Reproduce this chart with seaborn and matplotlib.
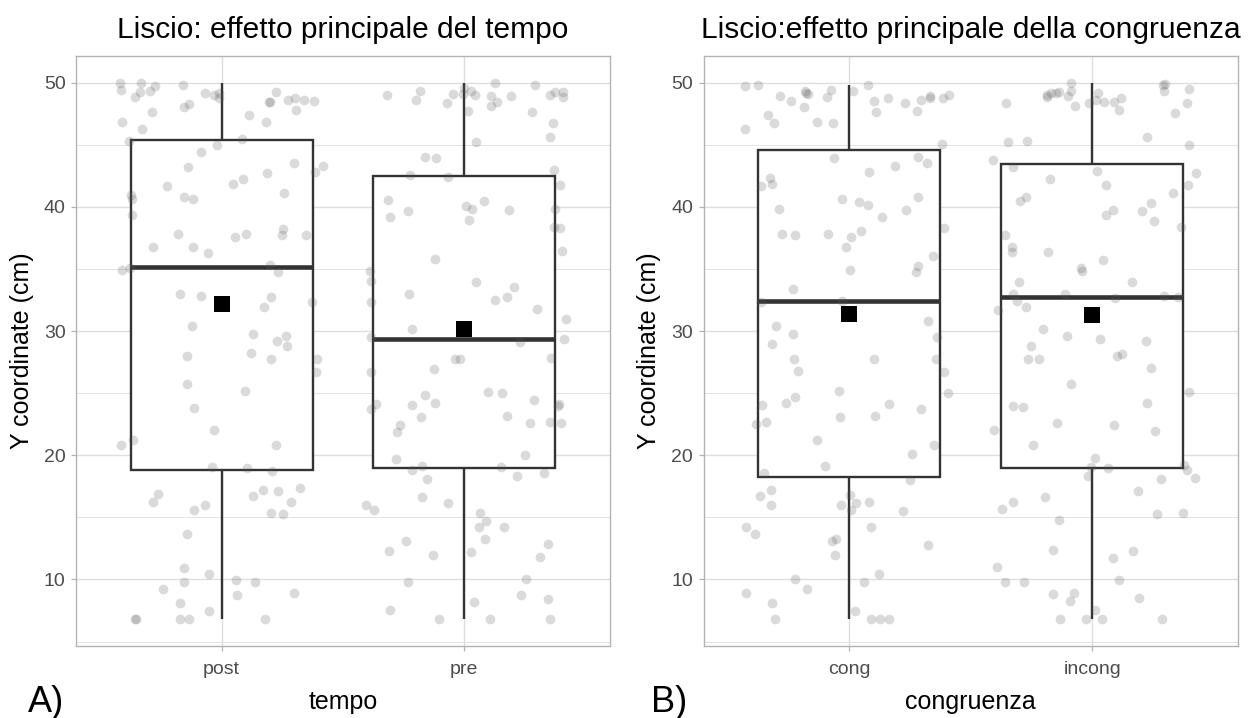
import numpy as np
import pandas as pd
import matplotlib
matplotlib.use("Agg")
import matplotlib.pyplot as plt
import seaborn as sns
from matplotlib.ticker import MultipleLocator, NullLocator

sns.set_theme(style="white")
plt.rcParams["font.family"] = ["Liberation Sans", "DejaVu Sans"]
plt.rcParams["text.color"] = "black"

# ---- data -------------------------------------------------------------
tempo_levels = ["post", "pre"]
congruenza_levels = ["cong", "incong"]

y_post = [
    49.78, 49.46, 49.03, 48.49, 49.16, 48.76, 50.00, 49.16, 48.57, 48.79,
    48.49, 49.24, 48.65, 47.81, 47.62, 47.41, 46.87, 46.28, 49.84, 49.33,
    49.24, 48.65, 48.30, 48.08, 50.00, 48.84, 46.87, 45.45, 45.28, 45.01,
    44.44, 43.58, 42.71, 42.28, 41.88, 42.82, 43.28, 43.20, 41.69, 41.15,
    40.93, 40.61, 40.61, 40.82, 39.37, 37.85, 37.72, 37.72, 38.23, 37.56,
    37.85, 36.77, 36.77, 36.32, 35.30, 35.05, 34.94, 34.75, 33.00, 31.97,
    32.73, 32.38, 32.83, 30.40, 29.60, 29.22, 29.76, 28.84, 28.25,
    27.76, 27.97, 27.76, 26.71, 25.76, 25.17, 23.82, 22.04, 21.25, 20.85,
    20.85, 19.07, 18.96, 18.75, 15.99, 15.59, 16.26, 15.29, 16.26, 15.37,
    17.34, 16.72, 17.23, 16.91, 17.12, 13.67, 10.43, 10.89, 9.94, 9.76,
    8.78, 9.76, 9.27, 8.89, 8.14, 7.43, 6.79, 6.79, 6.79, 6.79, 6.79,
]

y_pre = [
    49.30, 48.92, 48.65, 48.49, 48.16, 47.62, 49.33, 49.03, 48.38, 49.33,
    47.73, 46.76, 48.92, 49.06, 49.57, 50.00, 49.11, 49.03, 48.84, 49.24,
    49.84, 49.03, 45.22, 43.98, 45.60, 44.06, 42.96, 42.60, 42.40, 41.77,
    40.45, 39.80, 39.85, 39.66, 39.77, 38.99, 40.07, 40.53, 39.18, 38.42,
    38.31, 36.48, 35.80, 34.86, 33.94, 33.54, 32.51, 32.38, 32.97, 32.75,
    34.02, 31.81, 30.94, 30.19, 29.54, 29.40, 29.14,
    27.79, 27.79, 27.87, 26.98, 26.71, 25.09, 24.82, 25.01, 23.93, 24.22,
    24.03, 23.74, 24.49, 24.14, 24.14, 23.17, 22.68, 22.60, 22.41, 21.85,
    22.60, 23.06, 20.01, 19.74, 19.15, 19.09, 18.85, 18.34, 18.55, 18.10,
    16.64, 15.99, 16.15, 15.59, 15.37, 14.26, 14.26, 14.72, 13.29, 12.83,
    12.24, 11.78, 11.94, 12.32, 13.10, 10.05, 9.76, 8.78, 8.41, 8.22,
    7.54, 6.79, 6.79, 6.79,
]

y_cong = [
    49.33, 48.76, 48.35, 48.08, 48.57, 48.76, 48.97, 48.89, 48.57, 49.43,
    49.78, 48.97, 48.76, 49.08, 49.84, 49.03, 48.65, 49.84, 49.16, 49.33,
    47.71, 47.62, 47.44, 46.28, 45.10, 46.76, 46.76, 46.87, 43.58, 43.98,
    44.05, 43.31, 42.33, 42.82, 41.88, 41.69, 40.82, 40.61, 39.85, 40.42,
    40.15, 39.77, 39.18, 38.10, 37.83, 37.77, 37.56, 37.83, 36.77, 38.31,
    36.02, 34.89, 34.78, 35.26, 33.43, 32.38, 32.43, 30.84, 30.43, 29.76,
    29.54, 29.00,
    27.76, 27.76, 27.76, 26.71, 26.79, 25.17, 25.01, 24.68, 24.22, 24.14,
    23.74, 23.06, 22.68, 23.17, 24.03, 22.49, 21.25, 20.85, 20.09, 19.12,
    18.58, 17.23, 16.15, 15.59, 16.83, 15.99, 17.98, 16.26, 15.50, 15.99,
    16.75, 14.24, 13.29, 14.24, 13.67, 13.08, 12.81, 11.94, 10.43, 9.76,
    10.00, 9.24, 8.89, 8.14, 7.43, 6.79, 6.79, 6.79, 6.79,
]

y_incong = [
    49.51, 49.33, 48.65, 48.49, 48.35, 48.35, 47.54, 48.49, 49.03, 48.76,
    48.11, 47.81, 49.38, 49.19, 50.00, 49.92, 49.84, 48.84, 49.30, 48.38,
    48.97, 49.16, 49.16, 45.20, 43.75, 45.33, 45.03, 45.60, 42.93, 43.20,
    42.71, 41.09, 41.77, 41.77, 42.23, 40.80, 40.31, 40.50, 39.77, 39.66,
    39.39, 38.91, 38.42, 37.75, 36.80, 36.34, 36.40, 35.72, 35.05, 34.83,
    33.94, 33.99, 32.97, 32.46, 32.86, 32.97, 32.70, 32.73, 31.97, 31.70,
    30.16, 29.62, 29.33, 28.84, 29.19,
    27.97, 27.03, 27.79, 27.79, 28.14, 25.76, 25.09, 24.22, 23.87, 23.93,
    22.60, 21.93, 22.41, 20.85, 22.04, 19.82, 19.23, 18.96, 18.82, 18.34,
    18.20, 19.07, 18.07, 16.64, 15.69, 17.12, 16.26, 15.29, 15.37, 14.75,
    12.35, 11.75, 12.32, 10.97, 9.94, 9.76, 9.76, 8.81, 8.89, 8.30,
    8.49, 7.57, 6.79, 6.79, 6.79, 6.79,
]

df_tempo = pd.DataFrame({
    "tempo": ["post"] * len(y_post) + ["pre"] * len(y_pre),
    "y": y_post + y_pre,
})
df_cong = pd.DataFrame({
    "congruenza": ["cong"] * len(y_cong) + ["incong"] * len(y_incong),
    "y": y_cong + y_incong,
})

# ---- figure -----------------------------------------------------------
W, H = 1259, 718
fig = plt.figure(figsize=(W / 100, H / 100), dpi=100)


def px_axes(left, top, right, bottom):
    return fig.add_axes([left / W, 1 - bottom / H, (right - left) / W, (bottom - top) / H])


GRID = "#DEDEDE"
BORDER = "#B3B3B3"
TICKTXT = "#4D4D4D"
BOXLINE = "#333333"


def draw_panel(ax, df, xcol, order, title, xlabel, seed):
    ax.set_axisbelow(True)
    sns.boxplot(data=df, x=xcol, y="y", order=order, ax=ax, width=0.75,
                color="white", linecolor=BOXLINE, linewidth=1.7,
                showcaps=False, fliersize=0,
                medianprops={"linewidth": 3.3})
    np.random.seed(seed)
    sns.stripplot(data=df, x=xcol, y="y", order=order, ax=ax, jitter=0.43,
                  color="#5a5a5a", alpha=0.22, size=7, linewidth=0, zorder=3)
    sns.pointplot(data=df, x=xcol, y="y", order=order, ax=ax,
                  estimator="mean", errorbar=None, linestyle="none",
                  marker="s", markersize=11.5, markeredgewidth=0,
                  color="black", zorder=5)

    ax.set_xlim(-0.6, 1.6)
    ax.set_ylim(4.64, 52.16)
    ax.yaxis.set_major_locator(MultipleLocator(10))
    ax.yaxis.set_minor_locator(MultipleLocator(5))
    ax.xaxis.set_minor_locator(NullLocator())

    ax.grid(False)
    ax.xaxis.grid(True, which="major", color=GRID, linewidth=1.0)
    ax.yaxis.grid(True, which="major", color=GRID, linewidth=1.0)
    ax.yaxis.grid(True, which="minor", color=GRID, linewidth=0.6)

    for sp in ax.spines.values():
        sp.set_visible(True)
        sp.set_color(BORDER)
        sp.set_linewidth(1.0)

    ax.tick_params(axis="both", which="major", left=True, bottom=True,
                   length=3.5, width=0.9, color=BORDER,
                   labelsize=14, labelcolor=TICKTXT)
    ax.tick_params(axis="y", which="major", pad=4)
    ax.tick_params(axis="x", which="major", pad=7)
    ax.tick_params(which="minor", length=0)

    ax.set_title(title, fontsize=21.5, color="black", pad=13)

    ax.set_xlabel(xlabel, fontsize=18, color="black")
    ax.xaxis.label.set_va("baseline")
    ax.xaxis.set_label_coords(0.5, (646 - 709) / 590)

    ax.set_ylabel("Y coordinate (cm)", fontsize=18, color="black")
    ax.yaxis.label.set_va("center")


ax_a = px_axes(76, 56, 610, 646)
ax_b = px_axes(703.5, 56, 1238, 646)

draw_panel(ax_a, df_tempo, "tempo", tempo_levels,
           "Liscio: effetto principale del tempo", "tempo", 11)
draw_panel(ax_b, df_cong, "congruenza", congruenza_levels,
           "Liscio:effetto principale della congruenza", "congruenza", 23)

ax_a.yaxis.set_label_coords((22 - 76) / 534, 0.5)
ax_b.yaxis.set_label_coords((649 - 703.5) / 534.5, 0.5)

fig.text(28 / W, 1 - 712 / H, "A)", fontsize=26, color="black",
         ha="left", va="baseline")
fig.text(651 / W, 1 - 712 / H, "B)", fontsize=26, color="black",
         ha="left", va="baseline")

fig.savefig("out.png", dpi=100, facecolor="white")
